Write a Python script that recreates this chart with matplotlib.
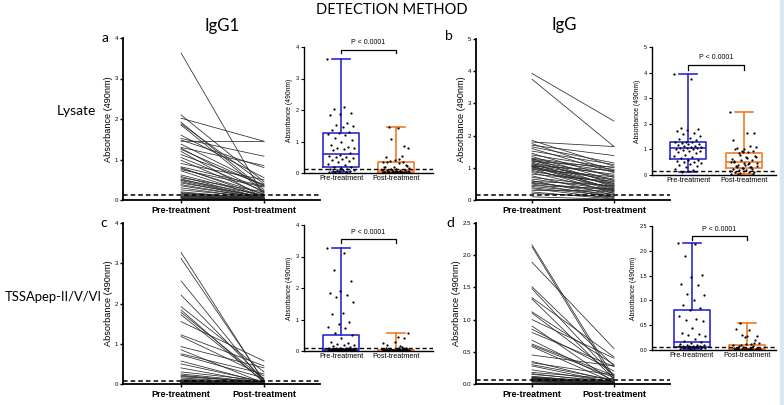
import numpy as np
import matplotlib
matplotlib.use("Agg")
import matplotlib.pyplot as plt
from matplotlib.patches import Rectangle

W, H = 784, 405

groups = ["Pre-treatment", "Post-treatment"]

# panel a: IgG1, lysate
pre_a = [3.63, 2.10, 2.02, 1.92, 1.88, 1.85, 1.60, 1.52, 1.48, 1.45, 1.38, 1.30, 1.28,
         1.25, 1.20, 1.12, 1.05, 0.98, 0.90, 0.82, 0.80, 0.78, 0.75, 0.72, 0.62, 0.58,
         0.55, 0.52, 0.50, 0.48, 0.45, 0.42, 0.38, 0.35, 0.30, 0.25, 0.20, 0.18, 0.16,
         0.14, 0.12, 0.10, 0.09, 0.08, 0.06, 0.05, 0.05, 0.04, 0.03, 0.02]
post_a = [0.10, 0.45, 1.45, 0.25, 0.40, 0.20, 0.55, 1.08, 0.80, 1.44, 0.36, 0.85, 0.18,
          0.35, 0.05, 0.38, 0.22, 0.12, 0.50, 0.34, 0.08, 0.15, 0.32, 0.06, 0.10, 0.04,
          0.20, 0.03, 0.12, 0.05, 0.02, 0.08, 0.03, 0.04, 0.02, 0.06, 0.03, 0.02, 0.05,
          0.03, 0.02, 0.04, 0.03, 0.02, 0.02, 0.01, 0.03, 0.02, 0.01, 0.01]
cut_a = 0.12

# panel b: IgG, lysate
pre_b = [3.93, 3.75, 1.85, 1.80, 1.75, 1.70, 1.65, 1.60, 1.52, 1.45, 1.40, 1.35, 1.30,
         1.28, 1.27, 1.25, 1.22, 1.20, 1.18, 1.15, 1.12, 1.10, 1.08, 1.06, 1.05, 1.04,
         1.02, 1.00, 0.98, 0.95, 0.92, 0.88, 0.85, 0.80, 0.75, 0.70, 0.65, 0.60, 0.58,
         0.55, 0.52, 0.50, 0.45, 0.42, 0.38, 0.35, 0.30, 0.25, 0.20, 0.10]
post_b = [2.45, 1.66, 1.05, 1.66, 0.90, 1.38, 1.15, 0.85, 1.10, 0.70, 1.00, 0.60, 0.95,
          0.50, 0.88, 0.40, 0.75, 1.02, 0.55, 0.30, 0.80, 0.45, 0.65, 0.35, 0.92, 0.28,
          0.62, 0.48, 0.20, 0.72, 0.38, 0.52, 0.25, 0.58, 0.15, 0.42, 0.32, 0.10, 0.45,
          0.22, 0.30, 0.08, 0.35, 0.18, 0.12, 0.05, 0.28, 0.03, 0.10, 0.02]
cut_b = 0.15

# panel c: IgG1, TSSApep-II/V/VI
pre_c = [3.27, 3.12, 2.56, 2.21, 1.92, 1.84, 1.78, 1.72, 1.55, 1.22, 1.18, 0.93, 0.85,
         0.75, 0.72, 0.57, 0.50, 0.40, 0.30, 0.25, 0.22, 0.20, 0.18, 0.15, 0.12, 0.10,
         0.09, 0.08, 0.08, 0.07, 0.07, 0.06, 0.06, 0.06, 0.05, 0.05, 0.05, 0.05, 0.04,
         0.04, 0.04, 0.04, 0.04, 0.03, 0.03, 0.03, 0.03, 0.03, 0.03, 0.02, 0.02, 0.02,
         0.02, 0.02, 0.02, 0.02, 0.01, 0.01, 0.01, 0.01, 0.01, 0.01, 0.00, 0.00]
post_c = [0.05, 0.08, 0.03, 0.10, 0.30, 0.04, 0.12, 0.06, 0.57, 0.45, 0.20, 0.40, 0.02,
          0.25, 0.15, 0.03, 0.05, 0.02, 0.08, 0.04, 0.02, 0.03, 0.06, 0.02, 0.04, 0.01,
          0.03, 0.02, 0.04, 0.01, 0.03, 0.02, 0.05, 0.01, 0.02, 0.03, 0.01, 0.02, 0.04,
          0.01, 0.02, 0.03, 0.01, 0.02, 0.01, 0.03, 0.02, 0.01, 0.02, 0.01, 0.03, 0.01,
          0.02, 0.01, 0.02, 0.01, 0.01, 0.02, 0.01, 0.01, 0.00, 0.01, 0.00, 0.01]
cut_c = 0.08

# panel d: IgG, TSSApep-II/V/VI
pre_d = [2.16, 2.13, 1.89, 1.51, 1.48, 1.34, 1.32, 1.12, 1.10, 1.00, 0.90, 0.85, 0.80,
         0.68, 0.62, 0.60, 0.58, 0.45, 0.35, 0.33, 0.30, 0.28, 0.22, 0.18, 0.16, 0.15,
         0.12, 0.11, 0.10, 0.10, 0.09, 0.09, 0.08, 0.08, 0.08, 0.07, 0.07, 0.07, 0.06,
         0.06, 0.06, 0.05, 0.05, 0.05, 0.04, 0.04, 0.03, 0.03]
post_d = [0.10, 0.05, 0.55, 0.28, 0.12, 0.42, 0.08, 0.30, 0.15, 0.40, 0.03, 0.20, 0.27,
          0.05, 0.13, 0.10, 0.02, 0.28, 0.04, 0.14, 0.06, 0.02, 0.03, 0.08, 0.02, 0.04,
          0.01, 0.03, 0.02, 0.01, 0.02, 0.03, 0.01, 0.02, 0.01, 0.02, 0.01, 0.03, 0.01,
          0.02, 0.01, 0.01, 0.02, 0.01, 0.01, 0.02, 0.01, 0.01]
cut_d = 0.06

BLUE = "#2a2ad0"
ORANGE = "#f27a22"
SANS = ["Liberation Sans", "DejaVu Sans"]
BIG = ["Lato", "DejaVu Sans"]

fig = plt.figure(figsize=(W / 100, H / 100), dpi=100)


def rect(l, t, r, b):
    return [l / W, 1 - b / H, (r - l) / W, (b - t) / H]


def style_axes(ax, lw, tsize):
    for s in ["top", "right"]:
        ax.spines[s].set_visible(False)
    ax.spines["left"].set_linewidth(lw)
    ax.spines["bottom"].set_linewidth(lw)
    ax.tick_params(axis="y", length=2.5, width=lw * 0.8, labelsize=tsize, pad=1)
    ax.tick_params(axis="x", length=2.5, width=lw * 0.8, pad=1.5)
    for t in ax.get_yticklabels():
        t.set_family(SANS)


def main_panel(pos, xlim, ymax, yticks, fmt, pre, post, cut):
    ax = fig.add_axes(rect(*pos))
    for p, q in zip(pre, post):
        ax.plot([0, 1], [p, q], color="#2b2b2b", lw=0.55)
    ax.axhline(cut, color="black", lw=1.1, ls=(0, (3, 2)))
    ax.set_xlim(*xlim)
    ax.set_ylim(0, ymax)
    ax.set_yticks(yticks)
    ax.set_yticklabels([fmt.format(v) for v in yticks])
    ax.set_xticks([0, 1])
    ax.set_xticklabels(groups, fontsize=6.5, fontweight="bold", family=SANS)
    ax.set_ylabel("Absorbance (490nm)", fontsize=6.6, family=SANS, labelpad=1.5)
    style_axes(ax, 1.3, 4.4)
    return ax


def inset_panel(pos, xlim, ymax, yticks, fmt, pre, post, cut, ybr, dbr):
    ax = fig.add_axes(rect(*pos))
    ax.patch.set_alpha(0)
    for i, (vals, col) in enumerate(zip([pre, post], [BLUE, ORANGE])):
        v = np.array(vals)
        ax.boxplot(v, positions=[i], widths=0.64, whis=(0, 100), showfliers=False,
                   patch_artist=False,
                   boxprops=dict(color=col, lw=1.2),
                   whiskerprops=dict(color=col, lw=1.2),
                   capprops=dict(color=col, lw=1.2),
                   medianprops=dict(color=col, lw=1.2))
        k = np.arange(len(v))
        off = ((k * 0.618034) % 1 - 0.5) * 0.5
        ax.scatter(i + off, v, s=2.6, color="black", zorder=3, lw=0)
    ax.axhline(cut, color="black", lw=1.0, ls=(0, (3, 2)), zorder=4)
    ax.plot([0, 0, 1, 1], [ybr - dbr, ybr, ybr, ybr - dbr], color="black", lw=0.9,
            clip_on=False)
    ax.text(0.5, ybr + dbr * 0.8, "P < 0.0001", ha="center", va="bottom", fontsize=5.0,
            family=SANS)
    ax.set_xlim(*xlim)
    ax.set_ylim(0, ymax)
    ax.set_yticks(yticks)
    ax.set_yticklabels([fmt.format(v) for v in yticks])
    ax.set_xticks([0, 1])
    ax.set_xticklabels(groups, fontsize=5.2, family=SANS)
    ax.set_ylabel("Absorbance (490nm)", fontsize=4.9, family=SANS, labelpad=2)
    style_axes(ax, 1.0, 4.0)
    ax.tick_params(axis="x", length=0)
    return ax


main_panel((123, 38, 320, 200), (-0.7, 1.675), 4, [0, 1, 2, 3, 4], "{:g}", pre_a, post_a, cut_a)
main_panel((476, 39, 670, 200), (-0.683, 1.683), 5, [0, 1, 2, 3, 4, 5], "{:g}", pre_b, post_b, cut_b)
main_panel((123, 223, 320, 384), (-0.7, 1.675), 4, [0, 1, 2, 3, 4], "{:g}", pre_c, post_c, cut_c)
main_panel((476, 223, 670, 384), (-0.683, 1.683), 2.5, [0, 0.5, 1, 1.5, 2, 2.5], "{:.1f}",
           pre_d, post_d, cut_d)

inset_panel((304, 47, 433, 173), (-0.673, 1.673), 4, [0, 1, 2, 3, 4], "{:g}", pre_a, post_a,
            cut_a, 3.92, 0.12)
inset_panel((652, 47, 776, 175), (-0.643, 1.571), 5, [0, 1, 2, 3, 4, 5], "{:g}", pre_b, post_b,
            cut_b, 4.31, 0.2)
inset_panel((304, 225, 433, 351), (-0.673, 1.673), 4, [0, 1, 2, 3, 4], "{:g}", pre_c, post_c,
            cut_c, 3.54, 0.12)
inset_panel((652, 226, 776, 350), (-0.727, 1.527), 2.5, [0, 0.5, 1, 1.5, 2, 2.5], "{:.1f}",
            pre_d, post_d, cut_d, 2.29, 0.08)


def ftext(x, y, s, size, **kw):
    fig.text(x / W, 1 - y / H, s, fontsize=size, family=BIG, ha="center", va="center", **kw)


ftext(392, 10, "DETECTION METHOD", 10.5)
ftext(222, 26, "IgG1", 12)
ftext(564, 25, "IgG", 12)
ftext(76, 111, "Lysate", 10)
ftext(53, 297, "TSSApep-II/V/VI", 9.4)
ftext(105, 38, "a", 10)
ftext(449, 36, "b", 10)
ftext(104, 223, "c", 10)
ftext(450, 223, "d", 10)

fig.patches.append(Rectangle((780 / W, 0), 4 / W, 1, transform=fig.transFigure,
                             color="#d8e7f3", zorder=0))

fig.savefig("out.png", dpi=100)
